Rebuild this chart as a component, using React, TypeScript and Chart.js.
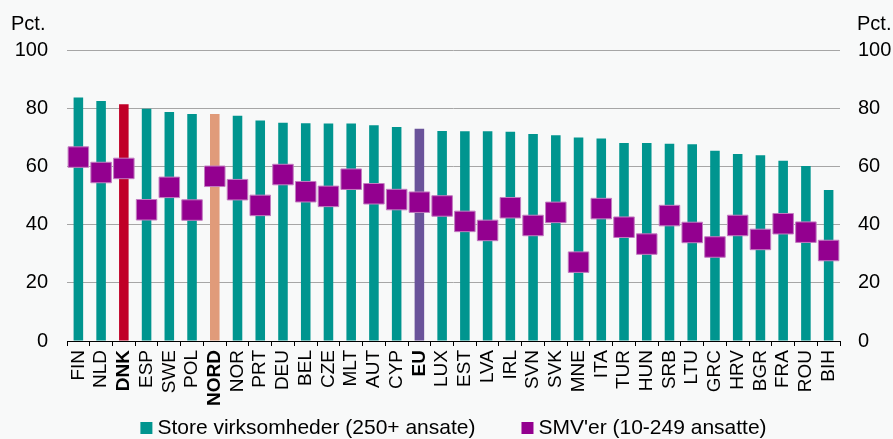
import React, { useEffect, useRef } from "react";
import { Chart, registerables } from "chart.js";

Chart.register(...registerables);

const categories = ["FIN","NLD","DNK","ESP","SWE","POL","NORD","NOR","PRT","DEU","BEL","CZE","MLT","AUT","CYP","EU","LUX","EST","LVA","IRL","SVN","SVK","MNE","ITA","TUR","HUN","SRB","LTU","GRC","HRV","BGR","FRA","ROU","BIH"];
const largeFirms = [83.7,82.5,81.4,79.8,78.7,78.0,78.0,77.4,75.8,75.0,74.8,74.7,74.7,74.1,73.5,72.9,72.2,72.1,72.1,71.9,71.1,70.7,69.9,69.6,68.0,68.0,67.8,67.6,65.4,64.3,63.8,61.9,60.1,51.9];
const smeFirms = [63.2,57.9,59.3,45.1,52.8,45.0,56.6,52.0,46.6,57.2,51.3,49.7,55.6,50.6,48.6,47.7,46.4,41.1,38.0,45.8,39.7,44.2,27.1,45.5,39.1,33.3,43.1,37.3,32.3,39.7,34.9,40.3,37.4,31.1];
const boldCategories = ["DNK", "NORD", "EU"];
const seriesLabels = ["Store virksomheder (250+ ansate)", "SMV'er (10-249 ansatte)"];
const axisUnit = "Pct.";
const yMin = 0;
const yMax = 100;
const yStep = 20;

const FONT = "'Liberation Sans', Arial, sans-serif";
const TEAL = "#00958f";
const MAGENTA = "#93008f";
const specialColors: Record<string, string> = { DNK: "#c00027", NORD: "#e09b7a", EU: "#6a539a" };
const BG = "#f8f9f9";

export default function App() {
  const ref = useRef<HTMLCanvasElement | null>(null);

  useEffect(() => {
    const canvas = ref.current;
    if (!canvas) return;
    document.body.style.margin = "0";
    document.body.style.background = BG;

    const bgPlugin = {
      id: "bg",
      beforeDraw(chart: any) {
        const { ctx, width, height } = chart;
        ctx.save();
        ctx.fillStyle = BG;
        ctx.fillRect(0, 0, width, height);
        ctx.restore();
      },
    };

    const extrasPlugin = {
      id: "extras",
      afterDraw(chart: any) {
        const { ctx, chartArea } = chart;
        ctx.save();
        ctx.fillStyle = "#000";
        ctx.font = `20px ${FONT}`;
        ctx.textBaseline = "middle";
        ctx.textAlign = "left";
        ctx.fillText(axisUnit, 11, 24);
        ctx.fillText(axisUnit, chartArea.right + 17, 24);

        // legend
        ctx.font = `21px ${FONT}`;
        const box = 12;
        const gapBox = 5;
        const gapItems = 46;
        const colors = [TEAL, MAGENTA];
        const widths = seriesLabels.map((t) => box + gapBox + ctx.measureText(t).width);
        const total = widths[0] + widths[1] + gapItems;
        let x = (chartArea.left + chartArea.right) / 2 - total / 2;
        const y = 428;
        seriesLabels.forEach((t, i) => {
          ctx.fillStyle = colors[i];
          ctx.fillRect(x, y - box / 2, box, box);
          ctx.fillStyle = "#000";
          ctx.fillText(t, x + box + gapBox, y);
          x += widths[i] + gapItems;
        });
        ctx.restore();
      },
    };

    const barColors = categories.map((c) => specialColors[c] || TEAL);

    const chart = new Chart(canvas, {
      type: "bar",
      data: {
        labels: categories,
        datasets: [
          {
            type: "line",
            label: seriesLabels[1],
            data: smeFirms,
            showLine: false,
            pointStyle: "rect",
            pointRadius: 14.5,
            pointHoverRadius: 14.5,
            backgroundColor: MAGENTA,
            borderColor: "#c27cc0",
            borderWidth: 1,
            order: 0,
            yAxisID: "y",
          } as any,
          {
            type: "bar",
            label: seriesLabels[0],
            data: largeFirms,
            backgroundColor: barColors,
            barPercentage: 0.42,
            categoryPercentage: 1,
            order: 1,
            yAxisID: "y",
          },
        ],
      },
      options: {
        responsive: false,
        animation: false,
        layout: { padding: { left: 15, right: 2, top: 50, bottom: 33 } },
        plugins: {
          legend: { display: false },
          tooltip: { enabled: false },
          title: { display: false },
        },
        scales: {
          x: {
            offset: true,
            afterFit: (scale: any) => {
              scale.paddingLeft = 0;
              scale.paddingRight = 0;
              scale.height = 65;
            },
            grid: {
              display: true,
              offset: true,
              drawOnChartArea: false,
              drawTicks: true,
              tickLength: 5,
              color: "#000",
            },
            border: { display: true, color: "#000", width: 1 },
            ticks: {
              autoSkip: false,
              maxRotation: 90,
              minRotation: 90,
              padding: 4,
              color: "#000",
              font: (ctx: any) => {
                const lbl = categories[ctx.index];
                return {
                  family: FONT,
                  size: 19,
                  weight: boldCategories.includes(lbl) ? "bold" : "normal",
                };
              },
            },
          },
          y: {
            position: "left",
            min: yMin,
            max: yMax,
            afterFit: (scale: any) => {
              scale.width = 52;
              scale.paddingTop = 0;
              scale.paddingBottom = 0;
            },
            grid: { color: "#a6a6a6", lineWidth: 1, drawTicks: false },
            border: { display: false },
            ticks: {
              stepSize: yStep,
              padding: 19,
              color: "#000",
              font: { family: FONT, size: 20 },
            },
          },
          y2: {
            position: "right",
            min: yMin,
            max: yMax,
            afterFit: (scale: any) => {
              scale.width = 51;
              scale.paddingTop = 0;
              scale.paddingBottom = 0;
            },
            grid: { drawOnChartArea: false, drawTicks: false },
            border: { display: false },
            ticks: {
              stepSize: yStep,
              padding: 18,
              color: "#000",
              font: { family: FONT, size: 20 },
            },
          },
        },
      },
      plugins: [bgPlugin, extrasPlugin],
    });

    return () => chart.destroy();
  }, []);

  return (
    <div style={{ position: "fixed", left: 0, top: 0, width: 893, height: 439, background: BG }}>
      <canvas ref={ref} width={893} height={439} />
    </div>
  );
}
